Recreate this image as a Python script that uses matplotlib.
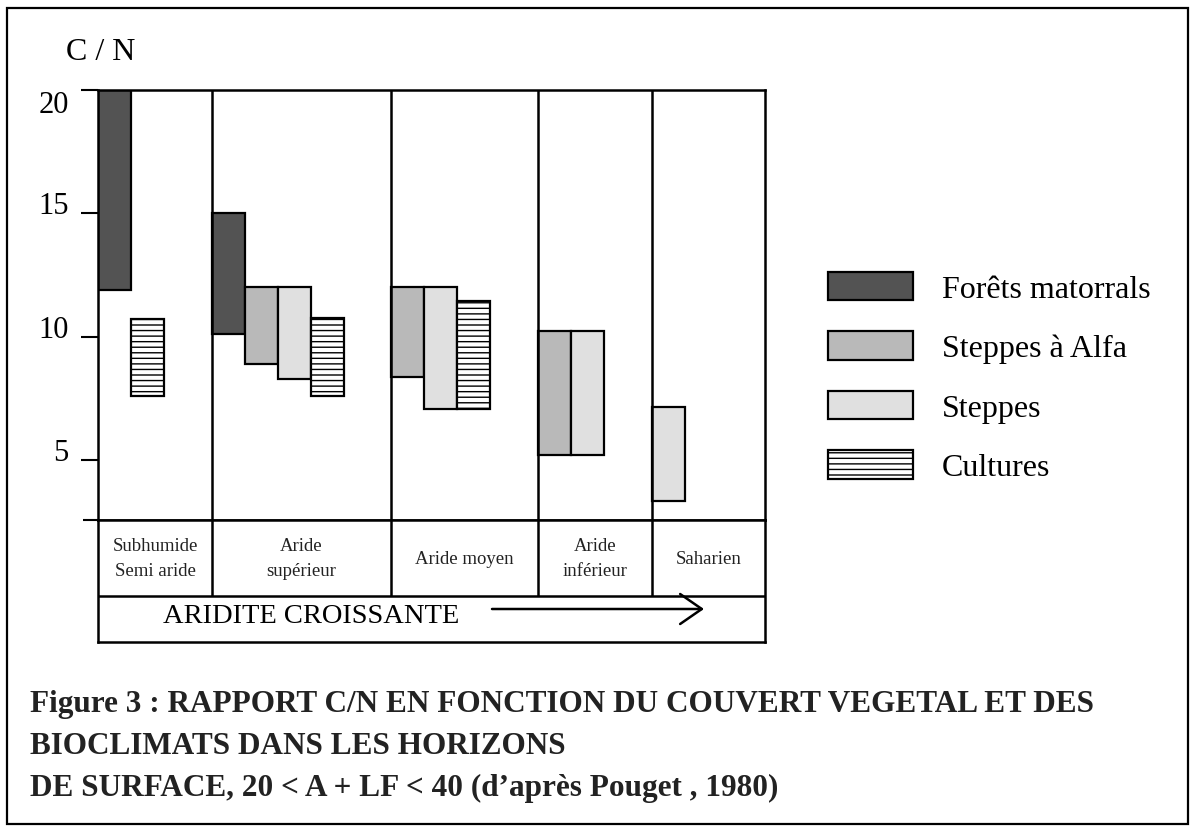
import numpy as np
import matplotlib
matplotlib.use("Agg")
import matplotlib.pyplot as plt
from matplotlib.patches import Patch, Rectangle

plt.rcParams['font.family'] = ['Liberation Serif', 'DejaVu Serif']
plt.rcParams['hatch.linewidth'] = 1.0

# bioclimates, from least to most arid
zones = ["Subhumide\nSemi aride", "Aride\nsupérieur", "Aride moyen", "Aride\ninférieur", "Saharien"]

# C/N range (low / high) for each vegetation cover, nan = absent
nan = np.nan
foret_low = [11.9, 10.1, nan, nan, nan]
foret_high = [20.0, 15.0, nan, nan, nan]
alfa_low = [nan, 8.9, 8.35, 5.2, nan]
alfa_high = [nan, 12.0, 12.0, 10.25, nan]
steppe_low = [nan, 8.3, 7.05, 5.2, 3.35]
steppe_high = [nan, 12.0, 12.0, 10.25, 7.15]
cult_low = [7.6, 7.6, 7.05, nan, nan]
cult_high = [10.7, 10.75, 11.45, nan, nan]

series_names = ["Forêts matorrals", "Steppes à Alfa", "Steppes", "Cultures"]
yticks = [5, 10, 15, 20]

# styles
colors = ["#535353", "#b9b9b9", "#e0e0e0", "white"]
hatches = [None, None, None, "---"]

W, H = 1190, 828
def fx(px):
    return px / W
def fy(py):
    return 1 - py / H

fig = plt.figure(figsize=(W / 100, H / 100), dpi=100)

# zone borders in bar-width units (layout)
zone_edges = [0, 3.45, 8.88, 13.33, 16.79, 20.2]
ymin = 2.57

ax = fig.add_axes([fx(98), fy(521), fx(765) - fx(98), fy(91) - fy(521)])
ax.set_xlim(zone_edges[0], zone_edges[-1])
ax.set_ylim(ymin, 20)

lows = [foret_low, alfa_low, steppe_low, cult_low]
highs = [foret_high, alfa_high, steppe_high, cult_high]
slot = np.zeros(len(zones))
for s in range(len(series_names)):
    for z in range(len(zones)):
        if np.isnan(lows[s][z]):
            continue
        ax.bar(zone_edges[z] + slot[z], highs[s][z] - lows[s][z], bottom=lows[s][z],
               width=1, align='edge', color=colors[s], edgecolor='black',
               linewidth=1.6, hatch=hatches[s], zorder=2)
        slot[z] += 1

for e in zone_edges[1:-1]:
    ax.axvline(e, color='black', lw=1.8, zorder=3)
for sp in ax.spines.values():
    sp.set_linewidth(1.8)

ax.set_xticks([])
ax.set_yticks(yticks, labels=[str(v) for v in yticks])
ax.set_yticks([ymin], minor=True)
ax.tick_params(axis='y', which='major', length=12, width=1.5, pad=9, labelsize=22)
ax.tick_params(axis='y', which='minor', length=11, width=1.5)
for lbl in ax.get_yticklabels():
    if lbl.get_text() == "20":
        lbl.set_verticalalignment('top')
    else:
        lbl.set_verticalalignment('baseline')

fig.text(fx(101), fy(52), "C / N", ha='center', va='center', fontsize=23)

# table with the bioclimate names
tab = fig.add_axes([fx(98), fy(643), fx(765) - fx(98), fy(521) - fy(643)])
tab.set_xlim(zone_edges[0], zone_edges[-1])
tab.set_ylim(0, 1)
tab.set_xticks([])
tab.set_yticks([])
for sp in tab.spines.values():
    sp.set_linewidth(1.8)
row_bot = 0.377
tab.axhline(row_bot, color='black', lw=1.8)
tab.vlines(zone_edges[1:-1], row_bot, 1, color='black', lw=1.8)
for i, name in enumerate(zones):
    tab.text((zone_edges[i] + zone_edges[i + 1]) / 2, (row_bot + 1) / 2, name,
             ha='center', va='center', fontsize=13.5, linespacing=1.6, color='#222222')

fig.text(fx(311), fy(617), "ARIDITE CROISSANTE", ha='center', va='center', fontsize=20.5)
fig.add_artist(plt.Annotation('', xy=(fx(704), fy(610)), xytext=(fx(492), fy(610)),
                              xycoords='figure fraction',
                              arrowprops=dict(arrowstyle='->,head_length=1.3,head_width=0.9',
                                              lw=1.8, color='black', mutation_scale=12,
                                              shrinkA=0, shrinkB=0)))

# legend
handles = [Patch(facecolor=colors[i], edgecolor='black', hatch=hatches[i], lw=1.6)
           for i in range(len(series_names))]
fig.legend(handles, series_names, loc='center left', bbox_to_anchor=(fx(828), fy(378)),
           frameon=False, fontsize=23, handlelength=2.66, handleheight=1.0,
           handletextpad=0.9, labelspacing=0.85, borderpad=0, borderaxespad=0)

# caption
cap = ["Figure 3 : RAPPORT C/N EN FONCTION DU COUVERT VEGETAL ET DES",
       "BIOCLIMATS DANS LES HORIZONS",
       "DE SURFACE, 20 < A + LF < 40 (d\u2019après Pouget , 1980)"]
for line, base in zip(cap, [712, 754, 796]):
    fig.text(fx(30), fy(base), line, ha='left', va='baseline', fontsize=22.5,
             fontweight='bold', color='#222222')

fig.add_artist(Rectangle((fx(7), fy(825)), fx(1188) - fx(7), fy(9) - fy(825),
                         transform=fig.transFigure, fill=False, lw=1.6, ec='black'))

fig.savefig("out.png", dpi=100)
